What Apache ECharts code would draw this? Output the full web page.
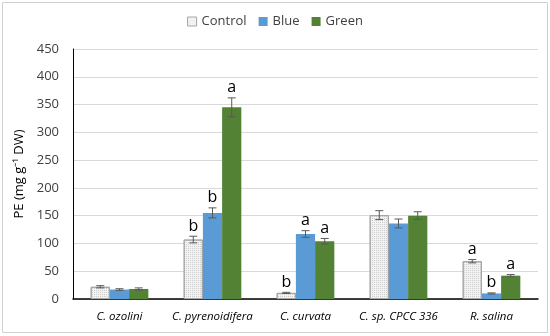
<!DOCTYPE html>
<html><head><meta charset="utf-8">
<script src="https://cdn.jsdelivr.net/npm/echarts@6/dist/echarts.min.js"></script>
<style>html,body{margin:0;padding:0;background:#fff}#c{width:550px;height:336px}</style>
</head><body><div id="c"></div>
<script>
const categories = ['C. ozolini', 'C. pyrenoidifera', 'C. curvata', 'C. sp. CPCC 336', 'R. salina'];
const seriesNames = ['Control', 'Blue', 'Green'];
const controlVals = [22, 107, 11, 151, 68];
const blueVals = [17, 155, 117, 136, 10];
const greenVals = [18, 345, 104, 150, 42];
const controlErr = [2, 6, 1, 8, 3];
const blueErr = [1.5, 9, 6, 8, 1];
const greenErr = [2, 17, 5, 7, 2];
const controlLetters = ['', 'b', 'b', '', 'a'];
const blueLetters = ['', 'b', 'a', '', 'b'];
const greenLetters = ['', 'a', 'a', '', 'a'];
const yTicks = [0, 50, 100, 150, 200, 250, 300, 350, 400, 450];

const colors = ['#F2F2F2', '#5B9BD5', '#548235'];
const vals = [controlVals, blueVals, greenVals];
const errs = [controlErr, blueErr, greenErr];
const letters = [controlLetters, blueLetters, greenLetters];
const catGap = 0.38;

const chart = echarts.init(document.getElementById('c'));
const series = [];
seriesNames.forEach((name, si) => {
  const st = { color: colors[si] };
  if (si === 0) {
    st.borderColor = '#A6A6A6';
    st.borderWidth = 1;
    st.decal = { symbol: 'rect', symbolSize: 1, color: 'rgba(170,170,170,0.5)', dashArrayX: [1, 1], dashArrayY: [1, 1], rotation: 0 };
  }
  series.push({
    name, type: 'bar', data: vals[si], barGap: '0%', barCategoryGap: (catGap * 100) + '%',
    itemStyle: st, emphasis: { disabled: true }
  });
});
seriesNames.forEach((name, si) => {
  series.push({
    type: 'custom', name: name + '_err', silent: true, z: 10,
    data: vals[si].map((v, i) => [i, v, errs[si][i]]),
    renderItem: function (params, api) {
      const i = api.value(0), v = api.value(1), e = api.value(2);
      const band = api.size([1, 0])[0];
      const bw = band * (1 - catGap) / 3;
      const c = api.coord([i, v]);
      const x = c[0] + (si - 1) * bw;
      const yHi = api.coord([i, v + e])[1];
      const yLo = api.coord([i, v - e])[1];
      const cap = 4;
      const lt = { stroke: '#595959', lineWidth: 1 };
      const children = [
        { type: 'line', shape: { x1: x, y1: yHi, x2: x, y2: yLo }, style: lt },
        { type: 'line', shape: { x1: x - cap, y1: yHi, x2: x + cap, y2: yHi }, style: lt },
        { type: 'line', shape: { x1: x - cap, y1: yLo, x2: x + cap, y2: yLo }, style: lt }
      ];
      const letter = letters[si][i];
      if (letter) {
        children.push({ type: 'text', style: { text: letter, x: x, y: yHi - 2, align: 'center', verticalAlign: 'bottom', fill: '#000', font: '16px "Open Sans", sans-serif' } });
      }
      return { type: 'group', children };
    }
  });
});

chart.setOption({
  animation: false,
  textStyle: { fontFamily: '"Open Sans", sans-serif' },
  graphic: [{ type: 'rect', shape: { x: 2.5, y: 2.5, width: 545, height: 330 }, style: { fill: 'none', stroke: '#D0D0D0', lineWidth: 1 }, silent: true }],
  legend: {
    data: seriesNames.map((n, i) => ({ name: n, itemStyle: i === 0 ? { color: '#F2F2F2', borderColor: '#A6A6A6', borderWidth: 1, decal: 'none' } : {} })),
    top: 10, left: 'center', itemWidth: 9, itemHeight: 9, itemGap: 12, icon: 'rect',
    textStyle: { fontSize: 13, color: '#404040' }
  },
  grid: { left: 73, right: 12, top: 49, bottom: 37 },
  xAxis: {
    type: 'category', data: categories,
    axisLine: { lineStyle: { color: '#000', width: 1.5 } },
    axisTick: { show: false },
    axisLabel: { interval: 0, fontStyle: 'italic', fontSize: 11.5, color: '#000', margin: 12 }
  },
  yAxis: {
    type: 'value', min: yTicks[0], max: yTicks[yTicks.length - 1], interval: 50,
    name: 'PE (mg g⁻¹ DW)', nameLocation: 'middle', nameGap: 44,
    nameTextStyle: { fontSize: 13, color: '#000' },
    axisLine: { show: true, lineStyle: { color: '#000', width: 1 } },
    axisTick: { show: false },
    splitLine: { lineStyle: { color: '#D9D9D9' } },
    axisLabel: { fontSize: 13, color: '#404040', margin: 14 }
  },
  series
});
</script></body></html>
